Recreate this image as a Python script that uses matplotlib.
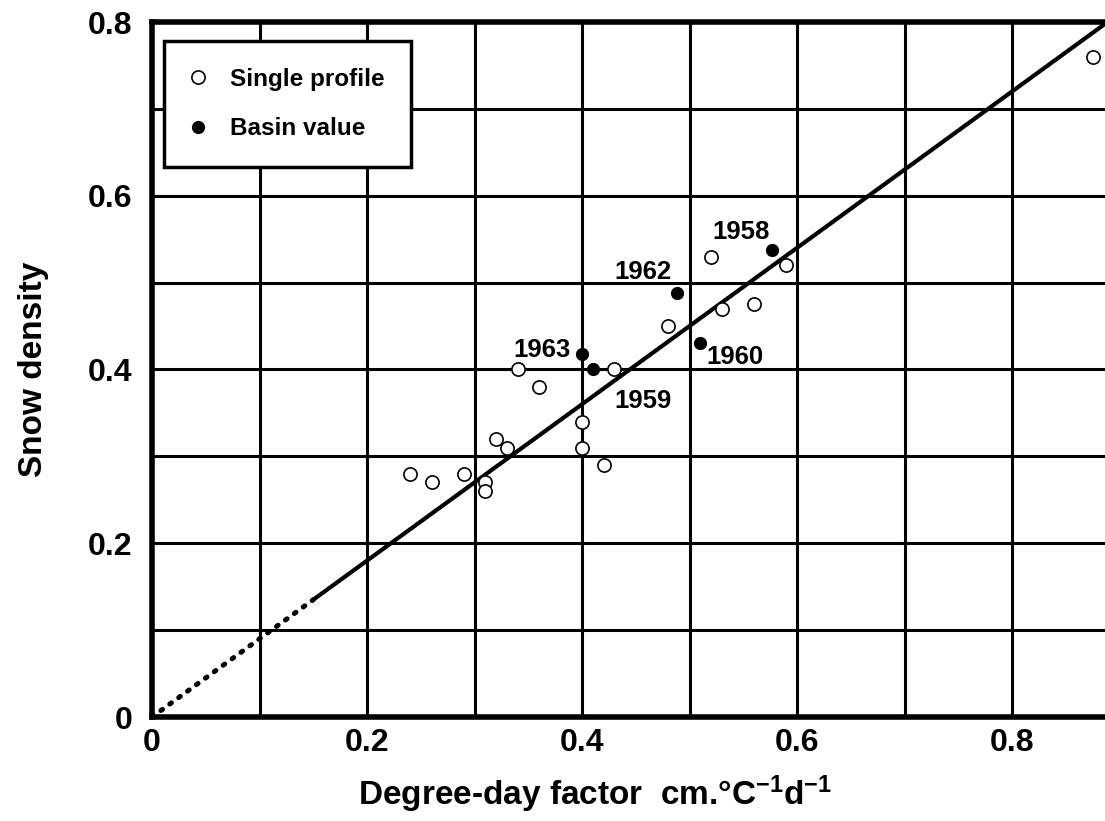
import matplotlib
matplotlib.use('Agg')
from matplotlib import pyplot as plt
import numpy as np

plt.rcParams['font.family'] = ['Liberation Sans', 'DejaVu Sans']
plt.rcParams['font.weight'] = 'bold'
plt.rcParams['mathtext.fontset'] = 'custom'
plt.rcParams['mathtext.rm'] = 'Liberation Sans:bold'
plt.rcParams['mathtext.bf'] = 'Liberation Sans:bold'
plt.rcParams['mathtext.default'] = 'bf'

# single profile measurements (degree-day factor, snow density)
single_ddf = [0.24, 0.26, 0.29, 0.31, 0.31, 0.32, 0.33, 0.34, 0.36, 0.40,
              0.40, 0.42, 0.43, 0.48, 0.52, 0.53, 0.56, 0.59, 0.875]
single_rho = [0.28, 0.27, 0.28, 0.27, 0.26, 0.32, 0.31, 0.40, 0.38, 0.34,
              0.31, 0.29, 0.40, 0.45, 0.53, 0.47, 0.475, 0.52, 0.76]

# basin mean values by year
basin_years = ['1958', '1959', '1960', '1962', '1963']
basin_ddf = [0.577, 0.41, 0.51, 0.488, 0.40]
basin_rho = [0.537, 0.40, 0.43, 0.488, 0.418]

# fitted line: density = slope * ddf
slope = 0.9
dotted_end = 0.15

fig = plt.figure(figsize=(11.05, 8.21), dpi=100)
ax = fig.add_axes([152 / 1105, 1 - 717 / 821, 953 / 1105, 695 / 821])

ax.set_xlim(0, 953 / 1075)
ax.set_ylim(0, 0.8)

# grid every 0.1
ax.set_xticks(np.arange(0, 0.81, 0.1), minor=True)
ax.set_yticks(np.arange(0, 0.81, 0.1), minor=True)
ax.set_xticks([0, 0.2, 0.4, 0.6, 0.8])
ax.set_yticks([0, 0.2, 0.4, 0.6, 0.8])
ax.set_xticklabels(['0', '0.2', '0.4', '0.6', '0.8'])
ax.set_yticklabels(['0', '0.2', '0.4', '0.6', '0.8'])
ax.grid(True, which='both', color='black', linewidth=2.2, zorder=0)
ax.tick_params(which='both', length=0, labelsize=23)
ax.tick_params(axis='x', pad=8)
ax.tick_params(axis='y', pad=14)
for lab in ax.get_xticklabels() + ax.get_yticklabels():
    lab.set_fontweight('bold')

for side in ['left', 'bottom', 'top']:
    ax.spines[side].set_linewidth(4)
ax.spines['right'].set_visible(False)

# regression line, dotted near origin
xd = np.array([0, dotted_end])
ax.plot(xd, slope * xd, color='black', linewidth=3.6, linestyle=(0, (0.4, 1.8)),
        dash_capstyle='round', zorder=3)
xs = np.array([dotted_end, 1.0])
ax.plot(xs, slope * xs, color='black', linewidth=3, zorder=3)

ax.plot(single_ddf, single_rho, 'o', markersize=9.5, markerfacecolor='white',
        markeredgecolor='black', markeredgewidth=1.2, zorder=4,
        label='Single profile')
ax.plot(basin_ddf, basin_rho, 'o', markersize=8.5, color='black', zorder=5,
        label='Basin value')

# year labels beside basin points
offsets = {'1958': (-0.029, 0.021, 'center'),
           '1959': (0.0465, -0.036, 'center'),
           '1960': (0.0056, -0.016, 'left'),
           '1962': (-0.005, 0.024, 'right'),
           '1963': (-0.011, 0.005, 'right')}
for yr, xv, yv in zip(basin_years, basin_ddf, basin_rho):
    dx, dy, ha = offsets[yr]
    ax.text(xv + dx, yv + dy, yr, fontsize=18.5, fontweight='bold',
            ha=ha, va='center', zorder=6)

leg = ax.legend(loc='upper left', bbox_to_anchor=(0.013, 0.973), fontsize=17.5,
                frameon=True, fancybox=False, borderpad=1.1, handletextpad=1.0,
                labelspacing=1.1, handlelength=0.6, borderaxespad=0)
leg.get_frame().set_edgecolor('black')
leg.get_frame().set_linewidth(2.5)
leg.get_frame().set_alpha(1)
for t in leg.get_texts():
    t.set_fontweight('bold')
leg.set_zorder(10)

ax.set_ylabel('Snow density', fontsize=24, fontweight='bold', labelpad=28)
ax.set_xlabel('Degree-day factor  cm.°C$^{-1}$d$^{-1}$', fontsize=24,
              fontweight='bold')
ax.xaxis.set_label_coords(0.465, -0.082)

fig.savefig('out.png', dpi=100)
